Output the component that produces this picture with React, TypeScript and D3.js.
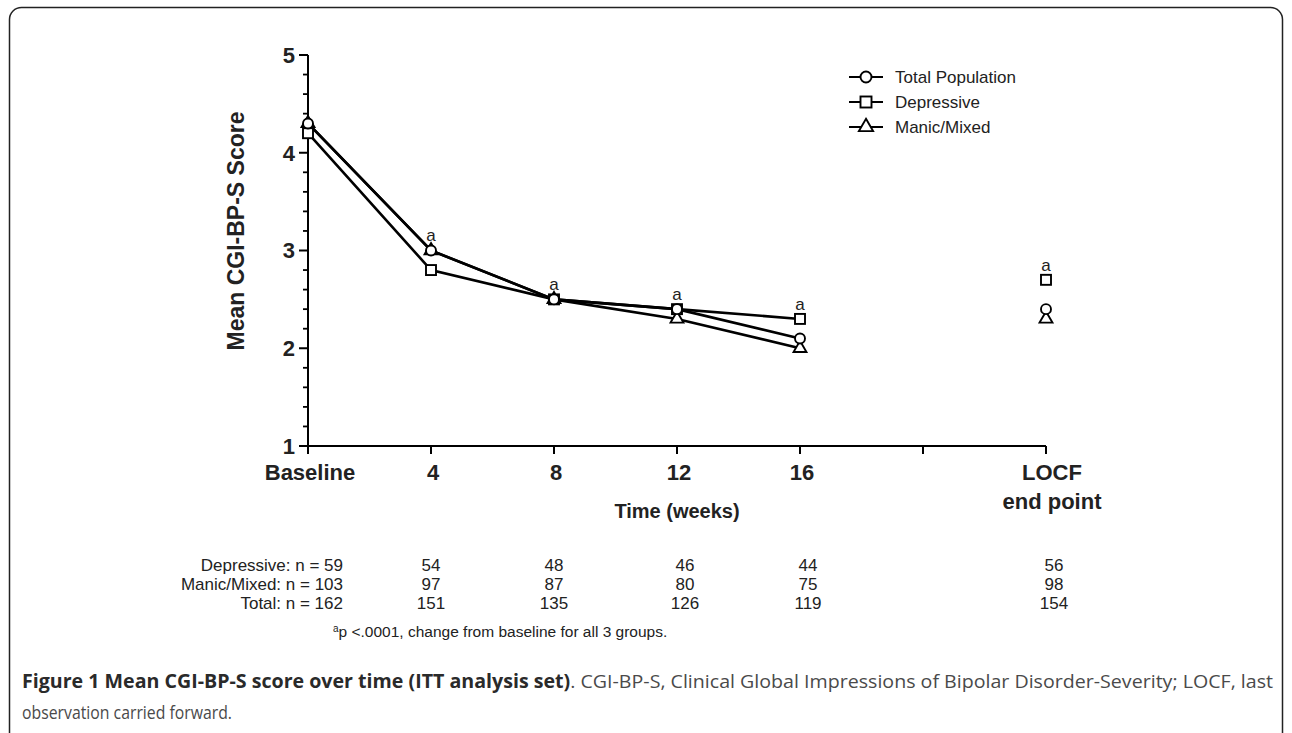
import React from "react";
import * as d3 from "d3";

const weeks = [0, 4, 8, 12, 16];
const totalPop = [4.3, 3.0, 2.5, 2.4, 2.1];
const depressive = [4.2, 2.8, 2.5, 2.4, 2.3];
const manicMixed = [4.3, 3.0, 2.5, 2.3, 2.0];
const locfWeek = 24;
const locfTotal = 2.4;
const locfDepressive = 2.7;
const locfManic = 2.3;
const sigWeeks = [4, 8, 12, 16, 24];
const xTickWeeks = [0, 4, 8, 12, 16, 20, 24];
const xTickLabels = ["Baseline", "4", "8", "12", "16", "", "LOCF"];
const yTicks = [1, 2, 3, 4, 5];
const nColWeeks = [4, 8, 12, 16, 24];
const nDepressive = ["54", "48", "46", "44", "56"];
const nManic = ["97", "87", "80", "75", "98"];
const nTotal = ["151", "135", "126", "119", "154"];
const nRowLabels = ["Depressive: n = 59", "Manic/Mixed: n = 103", "Total: n = 162"];
const legendLabels = ["Total Population", "Depressive", "Manic/Mixed"];

const W = 1292;
const H = 733;
const FONT = "Arial, 'Liberation Sans', Helvetica, sans-serif";

function Marker({ kind, x, y, s = 1 }: { kind: string; x: number; y: number; s?: number }) {
  if (kind === "circle") {
    return <circle cx={x} cy={y} r={5 * s} fill="#fff" stroke="#000" strokeWidth={1.9} />;
  }
  if (kind === "square") {
    const h = 5 * s;
    return <rect x={x - h} y={y - h} width={2 * h} height={2 * h} fill="#fff" stroke="#000" strokeWidth={1.9} />;
  }
  const p = d3.symbol().type(d3.symbolTriangle).size(72 * s * s)();
  return <path d={p as string} transform={`translate(${x},${y})`} fill="#fff" stroke="#000" strokeWidth={1.9} />;
}

export default function App() {
  const x = d3.scaleLinear().domain([0, 24]).range([308, 1046]);
  const y = d3.scaleLinear().domain([1, 5]).range([446, 55]);
  const line = d3
    .line<[number, number]>()
    .x((d) => x(d[0]))
    .y((d) => y(d[1]));

  const series = [
    { vals: depressive, kind: "square", locf: locfDepressive },
    { vals: manicMixed, kind: "triangle", locf: locfManic },
    { vals: totalPop, kind: "circle", locf: locfTotal },
  ];

  const minorTicks = d3.range(1, 5.001, 0.2).filter((v) => Math.abs(v - Math.round(v)) > 0.01);

  const topAt = (w: number) => {
    if (w === locfWeek) return Math.max(locfTotal, locfDepressive, locfManic);
    const i = weeks.indexOf(w);
    return Math.max(totalPop[i], depressive[i], manicMixed[i]);
  };

  const nColX = (w: number) => x(w) + (w >= 12 ? 8 : 0);

  return (
    <svg
      width={W}
      height={H}
      style={{ position: "absolute", left: 0, top: 0, background: "#fff" }}
      fontFamily={FONT}
    >
      <rect x={9.5} y={7.5} width={1273} height={740} rx={12} fill="none" stroke="#222" strokeWidth={1.5} />

      {/* axes */}
      <line x1={x(0)} x2={x(24)} y1={y(1)} y2={y(1)} stroke="#000" strokeWidth={2} />
      <line x1={x(0)} x2={x(0)} y1={y(5)} y2={y(1) + 8} stroke="#000" strokeWidth={2} />
      {xTickWeeks.map((w) => (
        <line key={"xt" + w} x1={x(w)} x2={x(w)} y1={y(1)} y2={y(1) + 8} stroke="#000" strokeWidth={2} />
      ))}
      {yTicks.map((v) => (
        <g key={"yt" + v}>
          <line x1={x(0) - 9} x2={x(0)} y1={y(v)} y2={y(v)} stroke="#000" strokeWidth={2} />
          <text x={x(0) - 13} y={y(v)} dy="0.36em" textAnchor="end" fontSize={22} fontWeight="bold" fill="#222">
            {v}
          </text>
        </g>
      ))}
      {minorTicks.map((v) => (
        <line key={"mt" + v} x1={x(0) - 5} x2={x(0)} y1={y(v)} y2={y(v)} stroke="#000" strokeWidth={1.8} />
      ))}

      {xTickWeeks.map((w, i) =>
        xTickLabels[i] ? (
          <text
            key={"xl" + w}
            x={x(w) + (w === 24 ? 6 : 2)}
            y={480}
            textAnchor="middle"
            fontSize={22}
            fontWeight="bold"
            fill="#222"
          >
            {xTickLabels[i]}
          </text>
        ) : null
      )}
      <text x={x(24) + 6} y={509} textAnchor="middle" fontSize={22} fontWeight="bold" fill="#222">
        end point
      </text>
      <text x={x(12)} y={518} textAnchor="middle" fontSize={20} fontWeight="bold" fill="#222">
        Time (weeks)
      </text>
      <text
        transform={`translate(244,${231}) rotate(-90)`}
        textAnchor="middle"
        fontSize={23}
        fontWeight="bold"
        fill="#222"
      >
        Mean CGI-BP-S Score
      </text>

      {/* lines */}
      {series.map((s, i) => (
        <path
          key={"ln" + i}
          d={line(weeks.map((w, j) => [w, s.vals[j]] as [number, number])) as string}
          fill="none"
          stroke="#000"
          strokeWidth={2.6}
        />
      ))}
      {series.map((s, i) => (
        <g key={"mk" + i}>
          {weeks.map((w, j) => (
            <Marker key={j} kind={s.kind} x={x(w)} y={y(s.vals[j])} />
          ))}
          <Marker kind={s.kind} x={x(locfWeek)} y={y(s.locf)} />
        </g>
      ))}

      {sigWeeks.map((w) => (
        <text key={"a" + w} x={x(w)} y={y(topAt(w)) - 15} dy="0.35em" textAnchor="middle" fontSize={17} fill="#222">
          a
        </text>
      ))}

      {/* legend */}
      {legendLabels.map((lab, i) => {
        const ly = 77 + i * 25;
        const kind = ["circle", "square", "triangle"][i];
        return (
          <g key={"lg" + i}>
            <line x1={849} x2={883} y1={ly} y2={ly} stroke="#000" strokeWidth={2.2} />
            <Marker kind={kind} x={866} y={ly} s={1.1} />
            <text x={895} y={ly} dy="0.36em" fontSize={17} fill="#222">
              {lab}
            </text>
          </g>
        );
      })}

      {/* n table */}
      {[nDepressive, nManic, nTotal].map((row, r) => (
        <g key={"row" + r}>
          <text x={343} y={571 + r * 19} textAnchor="end" fontSize={17} fill="#222">
            {nRowLabels[r]}
          </text>
          {row.map((v, c) => (
            <text key={c} x={nColX(nColWeeks[c])} y={571 + r * 19} textAnchor="middle" fontSize={17} fill="#222">
              {v}
            </text>
          ))}
        </g>
      ))}
      <text x={333} y={637} fontSize={15.5} fill="#222">
        <tspan fontSize={10} dy={-5}>a</tspan>
        <tspan dy={5}>p &lt;.0001, change from baseline for all 3 groups.</tspan>
      </text>

      {/* caption */}
      <text x={22} y={688} fontSize={19} fontFamily="'Open Sans', sans-serif" textLength={1251} lengthAdjust="spacingAndGlyphs">
        <tspan fontWeight="bold" fill="#2a2a2a">Figure 1 Mean CGI-BP-S score over time (ITT analysis set)</tspan>
        <tspan fill="#4a4a4a">. CGI-BP-S, Clinical Global Impressions of Bipolar Disorder-Severity; LOCF, last</tspan>
      </text>
      <text x={22} y={719} fontSize={19} fontFamily="'Open Sans', sans-serif" fill="#4a4a4a" textLength={210} lengthAdjust="spacingAndGlyphs">
        observation carried forward.
      </text>
    </svg>
  );
}
